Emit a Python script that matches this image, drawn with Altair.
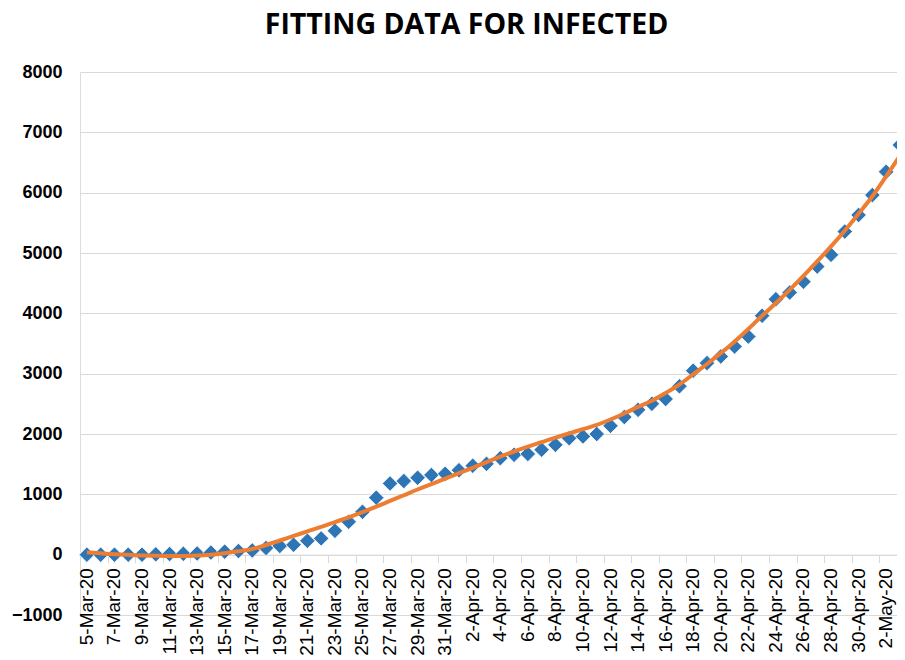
import altair as alt
import pandas as pd

# ---- data ----
dates = pd.date_range("2020-03-05", periods=60, freq="D")
date_labels = [f"{d.day}-{d.strftime('%b')}-20" for d in dates]

infected = [0, 0, 0, 0, 0, 5, 10, 15, 20, 35,
            50, 60, 70, 110, 145, 165, 230, 270, 395, 545,
            710, 945, 1180, 1220, 1275, 1320, 1340, 1400, 1475, 1505,
            1600, 1655, 1670, 1740, 1820, 1930, 1960, 2000, 2135, 2280,
            2400, 2500, 2580, 2790, 3050, 3175, 3285, 3450, 3615, 3960,
            4235, 4345, 4525, 4775, 4970, 5355, 5630, 5960, 6345, 6790]

fitted = [38, 22, 8, -3, -12, -18, -22, -22, -15, 0,
          25, 55, 95, 160, 235, 310, 385, 460, 540, 620,
          705, 795, 890, 985, 1080, 1170, 1260, 1350, 1440, 1535,
          1625, 1710, 1790, 1865, 1940, 2010, 2080, 2150, 2240, 2340,
          2450, 2550, 2680, 2820, 2990, 3160, 3340, 3530, 3740, 3960,
          4170, 4390, 4620, 4860, 5110, 5370, 5650, 5940, 6270, 6610]

y_ticks = list(range(-1000, 8001, 1000))
x_label_dates = date_labels[0::2]

df = pd.DataFrame({"date": date_labels, "infected": infected, "fitted": fitted})

W, H = 817, 543          # visible plot area (it runs off the right edge, as in the reference)
step = 13.78
RANGE_W = step * len(date_labels)   # full extent of the category scale

x_scale = alt.Scale(type="point", padding=0.5, range=[0, RANGE_W])
y_scale = alt.Scale(domain=[-1000, 8000], nice=False, zero=False)

x_axis = alt.Axis(values=x_label_dates,
                  labelAngle=270, tickOffset=-step / 2, labelOffset=step / 2 - 0.5,
                  offset=-H / 9, grid=False,
                  domainColor="#d9d9d9", domainWidth=1,
                  tickColor="#d9d9d9", tickSize=8, tickWidth=1,
                  labelFont="Liberation Sans", labelFontSize=19,
                  labelColor="#000000", labelPadding=5,
                  labelOverlap=False, labelBound=False, labelFlush=False,
                  title=None)

y_axis = alt.Axis(values=y_ticks, grid=True, gridColor="#d9d9d9", gridWidth=1,
                  domain=False, ticks=False,
                  labelFont="Liberation Sans", labelFontWeight="bold",
                  labelFontSize=18, labelColor="#000000", labelPadding=18,
                  format="d", title=None)

base = alt.Chart(df)

points = base.mark_point(shape="diamond", filled=True, fill="#2E75B6",
                         stroke="white", strokeWidth=0.8, size=240, opacity=1).encode(
    x=alt.X("date:N", sort=date_labels, scale=x_scale, axis=x_axis),
    y=alt.Y("infected:Q", scale=y_scale, axis=y_axis),
)

line = base.mark_line(color="#ED7D31", strokeWidth=4, interpolate="monotone").encode(
    x=alt.X("date:N", sort=date_labels, scale=x_scale),
    y=alt.Y("fitted:Q", scale=y_scale),
)

chart = alt.layer(points, line).properties(
    width=W, height=H,
    autosize=alt.AutoSizeParams(type="none"),
    padding={"left": 72, "top": 64, "right": 0, "bottom": 45},
    title=alt.Title("FITTING DATA FOR INFECTED", font="Open Sans", fontSize=28.5,
                    fontWeight="bold", color="#000000", anchor="middle",
                    dx=-22, offset=24),
).configure_view(stroke=None).configure(background="white")

chart.save("out.html", embed_options={"renderer": "svg", "actions": False})
